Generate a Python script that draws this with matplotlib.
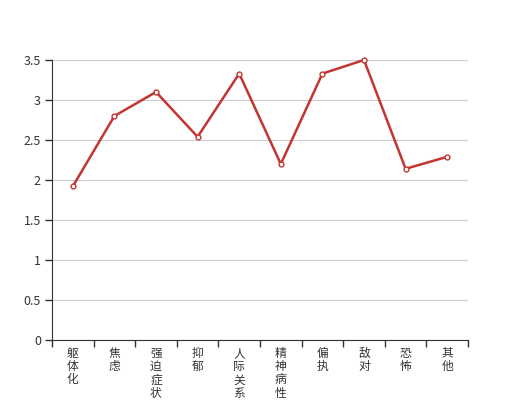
import numpy as np
import matplotlib
matplotlib.use("Agg")
import matplotlib.pyplot as plt
from matplotlib.ticker import FixedLocator

plt.rcParams['font.family'] = ['Noto Sans CJK SC', 'DejaVu Sans']

# factor names and scores
categories = ['躯体化', '焦虑', '强迫症状', '抑郁', '人际关系敏感',
              '精神病性', '偏执', '敌对', '恐怖', '其他']
scores = [1.92, 2.80, 3.10, 2.54, 3.33, 2.20, 3.33, 3.50, 2.14, 2.29]

fig = plt.figure(figsize=(5.2, 4.0), dpi=100)
ax = fig.add_axes([52 / 520, 0.15, 416 / 520, 0.70])

x = np.arange(len(categories))
ax.plot(x, scores, color='#c23531', linewidth=1.8, marker='o', markersize=3.5,
        markerfacecolor='white', markeredgecolor='#c23531', markeredgewidth=1,
        zorder=3, clip_on=False)

ax.set_xlim(-0.5, len(categories) - 0.5)
ax.set_ylim(0, 3.5)
ax.set_yticks(np.arange(0, 3.51, 0.5))
ax.set_yticklabels(['0', '0.5', '1', '1.5', '2', '2.5', '3', '3.5'])
ax.grid(axis='y', color='#cccccc', linewidth=0.8)
ax.set_axisbelow(True)

# labels at category centres, tick marks at bin boundaries
ax.set_xticks(x)
ax.set_xticklabels(['\n'.join(c) for c in categories], linespacing=1.02,
                   va='top')
ax.xaxis.set_minor_locator(FixedLocator(np.arange(-0.5, len(categories), 1.0)))
ax.tick_params(axis='x', which='major', length=0, pad=5, labelsize=8.5,
               labelcolor='#333333')
ax.tick_params(axis='x', which='minor', length=5, color='#333333', width=1)
ax.tick_params(axis='y', length=5, color='#333333', width=1, labelsize=9,
               labelcolor='#333333', pad=3)

for s in ['top', 'right']:
    ax.spines[s].set_visible(False)
ax.spines['left'].set_color('#333333')
ax.spines['bottom'].set_color('#333333')

fig.savefig('out.png', dpi=100)
